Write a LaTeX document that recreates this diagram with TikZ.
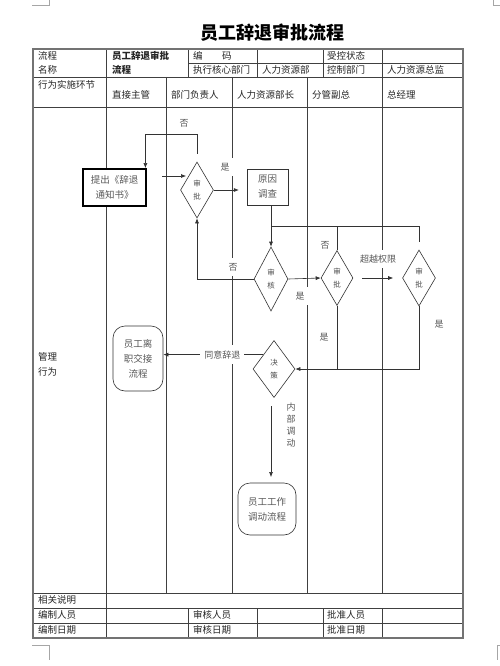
\documentclass[tikz,border=0pt]{standalone}
\usepackage{fontspec}
\setmainfont{Noto Sans CJK SC}
\usetikzlibrary{shapes.geometric,arrows.meta,calc}
\begin{document}
\begin{tikzpicture}[x=1pt,y=-1pt,
  tline/.style={draw=black!75, line width=0.6pt},
  outer/.style={draw=black!55, line width=1.1pt},
  ttext/.style={anchor=west, inner sep=0pt, font=\fontsize{9.5}{11}\selectfont, text=black!85},
  flow/.style={draw=black!80, line width=0.6pt},
  arr/.style={flow, -{Latex[length=5pt,width=4pt]}},
  dia/.style={diamond, draw=black!80, fill=white, line width=0.6pt, inner sep=0pt, font=\fontsize{7.5}{13}\selectfont, text=black!70, align=center},
  ftext/.style={font=\fontsize{9.5}{15}\selectfont, text=black!65, align=center},
  lab/.style={fill=white, inner xsep=4pt, inner ysep=5pt, font=\fontsize{9}{11}\selectfont, text=black!65},
  rbox/.style={draw=black!80, fill=white, line width=0.6pt, rounded corners=12pt, ftext},
  cmark/.style={draw=black!35, line width=0.5pt},
]
\useasboundingbox (0,0) rectangle (500,666);
\fill[white] (0,0) rectangle (500,666);

% corner marks
\draw[cmark] (32,5) -- (49,5) -- (49,0);
\draw[cmark] (32,645) -- (49,645) -- (49,660);
\draw[cmark] (493,0) -- (493,5) -- (500,5);
\draw[cmark] (500,645) -- (497,645) -- (497,660);

% title
\node[font=\fontsize{18}{20}\selectfont\bfseries] (title) at (272,33) {员工辞退审批流程};

% table grid
\draw[tline] (188,63) -- (463,63);
\draw[tline] (33,77) -- (463,77);
\draw[tline] (33,107) -- (463,107);
\draw[tline] (33,593) -- (463,593);
\draw[tline] (33,608) -- (463,608);
\draw[tline] (33,623) -- (463,623);
\draw[tline] (106,49) -- (106,638);
\draw[tline] (188,49) -- (188,77);
\draw[tline] (257,49) -- (257,77);
\draw[tline] (323,49) -- (323,77);
\draw[tline] (382,49) -- (382,593);
\foreach \x in {188,257,323,382} \draw[tline] (\x,608) -- (\x,638);
\foreach \x in {166,232,307} \draw[tline] (\x,77) -- (\x,593);
\draw[outer] (33,49) rectangle (463,638);

% table texts
\node[ttext] (t1) at (38,56) {流程};
\node[ttext] (t2) at (38,70) {名称};
\node[ttext, font=\fontsize{9.5}{11}\selectfont\bfseries] (t3) at (112,56) {员工辞退审批};
\node[ttext, font=\fontsize{9.5}{11}\selectfont\bfseries] (t4) at (112,70) {流程};
\node[ttext] (t5) at (193,56) {编};
\node[ttext] (t5b) at (222,56) {码};
\node[ttext] (t6) at (327,56) {受控状态};
\node[ttext] (t7) at (193,70) {执行核心部门};
\node[ttext] (t8) at (262,70) {人力资源部};
\node[ttext] (t9) at (327,70) {控制部门};
\node[ttext] (t10) at (387,70) {人力资源总监};
\node[ttext] (h0) at (38,85) {行为实施环节};
\node[ttext] (h1) at (112,95) {直接主管};
\node[ttext] (h2) at (171,95) {部门负责人};
\node[ttext] (h3) at (237,95) {人力资源部长};
\node[ttext] (h4) at (312,95) {分管副总};
\node[ttext] (h5) at (387,95) {总经理};
\node[ttext, align=left, font=\fontsize{9.5}{15}\selectfont] (gl) at (38,364) {管理\\行为};
\node[ttext] (b1) at (38,600) {相关说明};
\node[ttext] (b2) at (38,615) {编制人员};
\node[ttext] (b3) at (193,615) {审核人员};
\node[ttext] (b4) at (327,615) {批准人员};
\node[ttext] (b5) at (38,630) {编制日期};
\node[ttext] (b6) at (193,630) {审核日期};
\node[ttext] (b7) at (327,630) {批准日期};

% flow nodes
\node[draw=black, fill=white, line width=1.8pt, minimum width=63pt, minimum height=37pt, ftext, inner sep=0pt] (tz) at (114.5,187.5) {提出《辞退\\通知书》};
\node[dia, minimum width=33pt, minimum height=56pt] (d1) at (197,190) {审\\批};
\node[draw=black!80, fill=white, line width=0.6pt, minimum width=41pt, minimum height=36pt, ftext, inner sep=0pt] (yy) at (267.5,187) {原因\\调查};
\node[dia, minimum width=34pt, minimum height=64pt] (d2) at (271,279) {审\\核};
\node[dia, minimum width=32pt, minimum height=55pt] (d3) at (337,278) {审\\批};
\node[dia, minimum width=33pt, minimum height=56pt] (d4) at (419,278) {审\\批};
\node[dia, minimum width=42pt, minimum height=57pt] (d5) at (274,369) {决\\策};
\node[rbox, minimum width=50pt, minimum height=65pt, inner sep=0pt] (lz) at (138,358.5) {员工离\\职交接\\流程};
\node[rbox, minimum width=58pt, minimum height=52pt, inner sep=0pt] (dd) at (267,509) {员工工作\\调动流程};

\coordinate (in1) at (162,176);
\coordinate (j1) at (271,226);
\coordinate (k1) at (271,406);
\coordinate (k2) at (271,477);

% connectors
\draw[arr] ([yshift=8pt]d1.north) -- ++(0,-19) -| ([xshift=-1.5pt]tz.north east);
\node[lab] (l1) at (184,123) {否};
\draw[arr] (in1) -- ++(24,0);
\draw[arr] (d1.east) -- ++(25,0);
\node[lab] (l2) at (225,167) {是};
\draw[arr] (yy.south -| d2.north) -- (d2.north);
\draw[flow] (j1) -| (d3.north);
\draw[flow] (j1 -| d3.north) -| ([yshift=8pt]d4.north);
\node[lab] (l3) at (325,245) {否};
\draw[arr] (d2.west) -| (d1.south);
\node[lab] (l4) at (233,267) {否};
\draw[arr] (d2.east) -- (d3.west);
\node[lab] (l5) at (300,296) {是};
\draw[arr] ([xshift=9pt]d3.east) -- ([xshift=-9pt]d4.west);
\node[lab] (l6) at (378,259) {超越权限};
\draw[arr] (d4.south) |- (d5.east);
\node[lab] (l7) at (439,324) {是};
\draw[flow] (d3.south) -- (d3.south |- d5.east);
\node[lab] (l8) at (324,337) {是};
\draw[arr] (d5.north west) -- (d5.north west -| lz.east)
  node[lab, pos=0.41] (l9) {同意辞退};
\draw[arr] (k1) -- (k2);
\node[lab, align=center, font=\fontsize{9}{12}\selectfont, fill=none] (l10) at (291,425) {内\\部\\调\\动};
\end{tikzpicture}
\end{document}
